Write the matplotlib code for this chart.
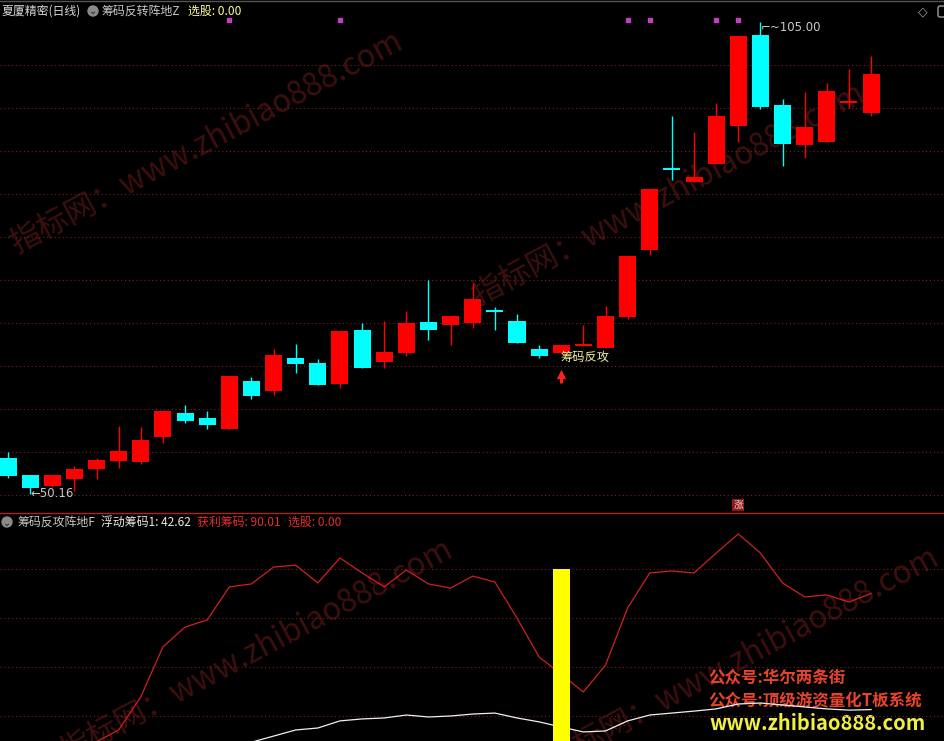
import matplotlib
matplotlib.use('Agg')
import matplotlib.pyplot as plt
from matplotlib.patches import Circle, FancyBboxPatch
import numpy as np

plt.rcParams['font.family'] = ['Noto Sans CJK SC', 'DejaVu Sans']

# ---------------- data ----------------
opens  = [54.3, 52.3, 51.0, 51.9, 53.0, 54.0, 53.8, 56.7, 59.5, 59.0,
          57.7, 63.3, 62.1, 65.9, 65.3, 62.9, 69.2, 65.5, 66.5, 70.1,
          69.8, 70.0, 71.4, 70.2, 67.0, 66.5, 67.3, 67.1, 70.7, 78.5,
          87.9, 86.4, 88.5, 92.9, 103.5, 95.3, 90.7, 91.0, 95.6, 94.4]
highs  = [55.0, 52.3, 52.3, 53.4, 54.3, 58.0, 57.9, 59.8, 60.5, 59.8,
          63.8, 63.7, 67.0, 67.6, 65.8, 69.1, 70.0, 70.2, 71.4, 75.0,
          70.8, 74.7, 71.9, 71.0, 67.4, 67.4, 69.8, 72.0, 77.8, 85.6,
          94.1, 92.2, 95.6, 103.4, 105.0, 96.0, 96.9, 97.9, 99.5, 101.0]
lows   = [52.0, 50.16, 50.9, 50.5, 51.9, 53.1, 53.6, 56.0, 58.4, 57.7,
          57.7, 61.2, 61.6, 64.2, 62.8, 62.4, 64.8, 64.8, 66.2, 68.0,
          67.4, 69.4, 69.2, 67.7, 65.9, 66.5, 67.3, 67.1, 70.5, 77.9,
          86.6, 86.4, 88.5, 91.0, 94.9, 88.2, 89.2, 91.0, 95.0, 94.1]
closes = [52.2, 50.8, 52.3, 53.0, 54.1, 55.1, 56.4, 59.8, 58.6, 58.1,
          63.8, 61.5, 66.3, 65.2, 62.8, 69.1, 64.8, 66.6, 70.0, 69.2,
          70.8, 72.8, 71.3, 67.7, 66.2, 67.4, 67.4, 70.8, 77.8, 85.6,
          87.8, 87.0, 94.1, 103.4, 95.1, 90.8, 92.8, 97.0, 95.6, 99.0]

profit_chips = [10, 14, 18, 24, 29.5, 34.3, 47.8, 68.2, 76.3, 79.2,
                92.7, 93.9, 100.8, 101.6, 94.3, 104.5, 98.4, 92.7, 99.6, 93.9,
                92.2, 97.1, 94.7, 80.0, 64.1, 57.0, 49.8, 60.8, 84.1, 98.4,
                99.2, 98.4, 106.5, 114.3, 106.5, 94.3, 88.6, 89.4, 86.5, 90.01]
float_chips = [12, 14, 15, 16, 17, 18, 19, 20, 21, 23,
               25, 29.3, 31.8, 34.3, 35.1, 38.0, 38.8, 39.2, 40.4, 39.6,
               40.0, 40.8, 41.2, 39.2, 37.6, 35.5, 33.5, 33.9, 38.0, 40.4,
               41.2, 42.0, 42.9, 44.9, 45.3, 44.5, 43.7, 42.9, 42.4, 42.62]

signal_dots = [10, 15, 28, 29, 32, 33]   # purple dots at top
attack_idx = 25                            # 筹码反攻 signal
attack_bar_value = 100
zhang_idx = 33
price_grid = [100, 95, 90, 85, 80, 75, 70, 65, 60, 55, 50]
ind_grid = [100, 80, 60, 40]

n = len(opens)
xs = np.arange(n)

RED = '#ff0000'
CYAN = '#00ffff'
GRID = '#7a2020'
W, H = 944, 741
HF = 8.6

fig = plt.figure(figsize=(W / 100, H / 100), dpi=100, facecolor='black')

# background overlay in pixel coordinates (watermarks, headers)
axbg = fig.add_axes([0, 0, 1, 1])
axbg.set_xlim(0, W)
axbg.set_ylim(H, 0)
axbg.set_facecolor('black')
axbg.axis('off')

wm = '指标网：www.zhibiao888.com'
for (x0, y0) in [(16, 254), (478, 306), (66, 762), (552, 770)]:
    axbg.text(x0, y0, wm, rotation=28, rotation_mode='anchor', ha='left',
              va='baseline', fontsize=22.5, color='#3e0f0f', zorder=0, clip_on=True)

# top header
axbg.text(2, 11, '夏厦精密(日线)', color='#d8d8d8', fontsize=HF, va='center', ha='left')
axbg.add_patch(Circle((93, 11), 5, color='#8a8a8a'))
axbg.text(93, 11.5, '⌄', color='#222222', fontsize=7, va='center', ha='center', family='DejaVu Sans')
axbg.text(101, 11, '筹码反转阵地Z', color='#c8c8c8', fontsize=HF, va='center', ha='left')
axbg.text(188, 11, '选股: 0.00', color='#ffff99', fontsize=HF, va='center', ha='left')
axbg.text(923, 12, '◇', color='#a0a0a0', fontsize=9, va='center', ha='center', family='DejaVu Sans')
axbg.add_patch(FancyBboxPatch((938, 6), 10, 11, boxstyle='round,pad=0,rounding_size=2',
                              fill=False, ec='#a0a0a0', lw=1))
axbg.plot([0, W], [0.5, 0.5], color='#555555', lw=1)

# bottom header
axbg.add_patch(Circle((7, 522), 5, color='#8a8a8a'))
axbg.text(7, 522.5, '⌄', color='#222222', fontsize=7, va='center', ha='center', family='DejaVu Sans')
axbg.text(17, 522, '筹码反攻阵地F', color='#c8c8c8', fontsize=HF, va='center', ha='left')
axbg.text(101, 522, '浮动筹码1: 42.62', color='#e8e8e8', fontsize=HF, va='center', ha='left')
axbg.text(197, 522, '获利筹码: 90.01', color='#e03030', fontsize=HF, va='center', ha='left')
axbg.text(288, 522, '选股: 0.00', color='#e03030', fontsize=HF, va='center', ha='left')

# promo texts
axbg.text(708, 678, '公众号:华尔两条街', color='#e8442c', fontsize=11.9, fontweight='bold', va='center', ha='left')
axbg.text(708, 701, '公众号:顶级游资量化T板系统', color='#e8442c', fontsize=11.9, fontweight='bold', va='center', ha='left')
axbg.text(709, 724, 'www.zhibiao888.com', color='#f0f040', fontsize=14.5, fontweight='bold', va='center', ha='left')

# separator
axbg.plot([0, W], [513, 513], color='#b02020', lw=1)

# ---------------- price panel ----------------
ax = fig.add_axes([0, 228 / H, 1, 513 / H])
ax.set_facecolor('none')
ax.set_xlim(-8 / 22.13, (W - 8) / 22.13)
ax.set_ylim(100 - 448 / 8.6, 100 + 65 / 8.6)
ax.axis('off')
for g in price_grid:
    ax.axhline(g, color=GRID, lw=0.8, ls=(0, (1, 2.5)), zorder=1)

bw = 0.77
for i in range(n):
    o, h, l, c = opens[i], highs[i], lows[i], closes[i]
    col = RED if c >= o else CYAN
    ax.vlines(xs[i], l, h, color=col, lw=1, zorder=2)
    bot = min(o, c)
    ht = max(abs(c - o), 0.22)
    ax.bar(xs[i], ht, bottom=bot, width=bw, color=col, edgecolor=col, lw=0, zorder=3)

ax.scatter([xs[i] for i in signal_dots], [105.25] * len(signal_dots), marker='s', s=6,
           color='#c040c0', zorder=4)

# low / high labels
imin = int(np.argmin(lows))
imax = int(np.argmax(highs))
ax.text(xs[imin], lows[imin], '←' + f'{lows[imin]:.2f}', color='#c8c8c8', fontsize=8.5,
        va='center', ha='left', family='DejaVu Sans')
ax.text(xs[imax], highs[imax] - 0.6, '⌐~' + f'{highs[imax]:.2f}', color='#c8c8c8', fontsize=8.5,
        va='center', ha='left', family='DejaVu Sans')

# attack signal
ax.vlines(xs[attack_idx], 63.0, 64.0, color='#ff2020', lw=2.2, zorder=4)
ax.scatter([xs[attack_idx]], [64.1], marker='^', s=45, color='#ff2020', lw=0, zorder=4)
ax.text(xs[attack_idx] - 0.05, 65.95, '筹码反攻', color='#f5f0a0', fontsize=8.8, va='center', ha='left')

# 涨 marker
ax.text(xs[zhang_idx], 48.85, '涨', color='#ffd0d0', fontsize=7, va='center', ha='center',
        bbox=dict(boxstyle='square,pad=0.12', fc='#8b1a1a', ec='none'))

# ---------------- indicator panel ----------------
ax2 = fig.add_axes([0, 0, 1, 228 / H])
ax2.set_facecolor('none')
ax2.set_xlim(-8 / 22.13, (W - 8) / 22.13)
ax2.set_ylim(100 - 172 / 2.45, 100 + 56 / 2.45)
ax2.axis('off')
for g in ind_grid:
    ax2.axhline(g, color=GRID, lw=0.8, ls=(0, (1, 2.5)), zorder=1)
ax2.plot(xs, profit_chips, color='#d02020', lw=0.9, zorder=3)
ax2.plot(xs, float_chips, color='#f0f0f0', lw=0.9, zorder=3)
ax2.bar(xs[attack_idx], attack_bar_value, width=bw, color='#ffff00', zorder=4)

fig.savefig('out.png', dpi=100, facecolor='black')
